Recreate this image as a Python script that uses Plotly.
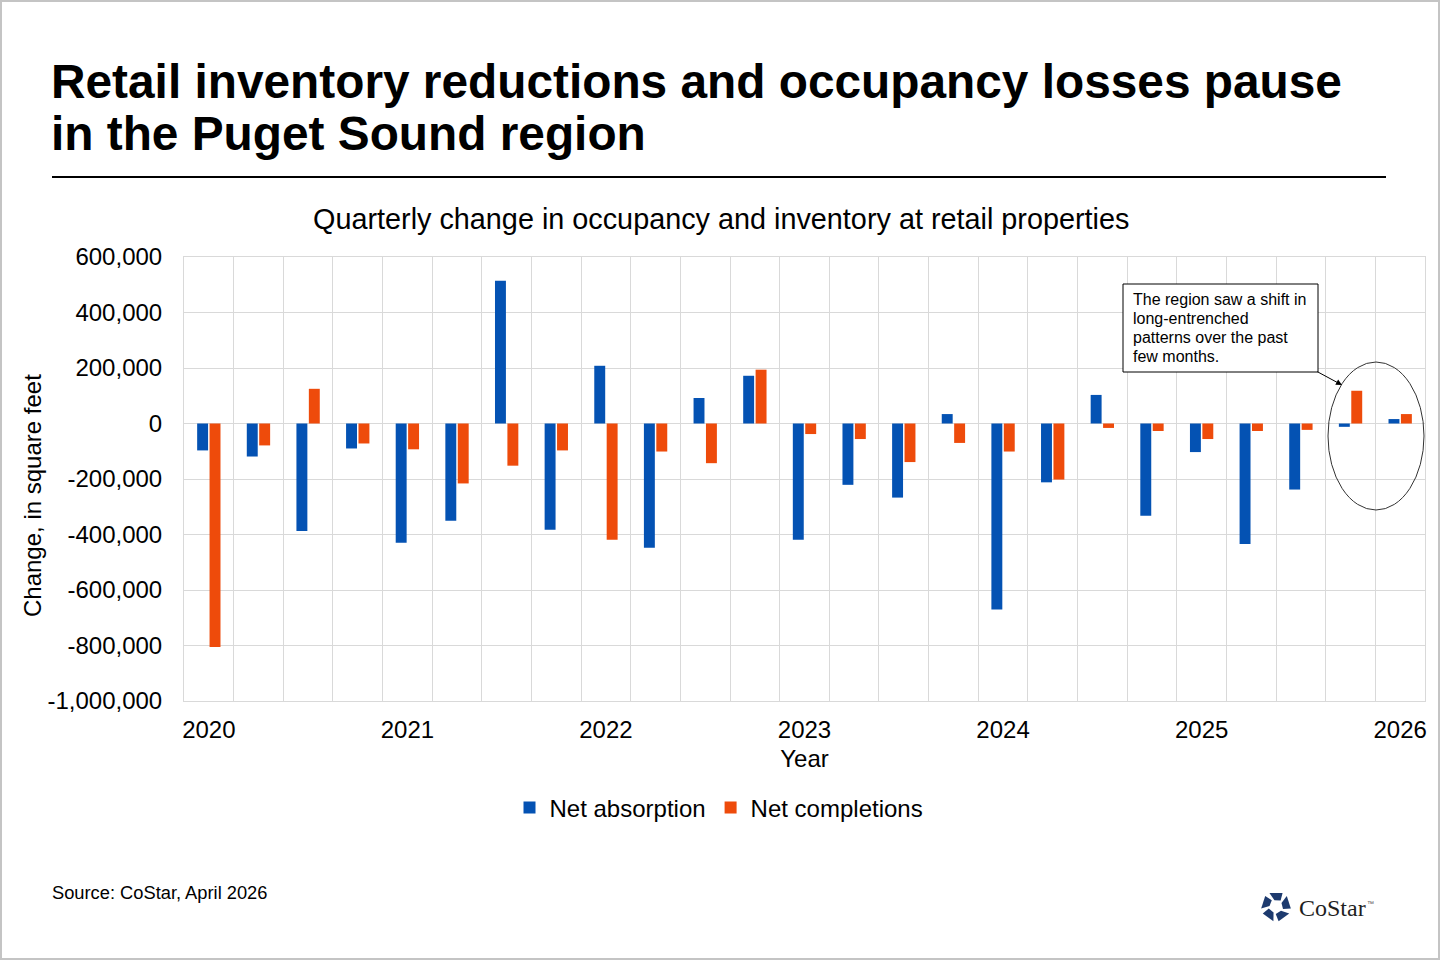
import math
import plotly.graph_objects as go

# ---------------- data ----------------
quarters = [
    "2020 Q1", "2020 Q2", "2020 Q3", "2020 Q4",
    "2021 Q1", "2021 Q2", "2021 Q3", "2021 Q4",
    "2022 Q1", "2022 Q2", "2022 Q3", "2022 Q4",
    "2023 Q1", "2023 Q2", "2023 Q3", "2023 Q4",
    "2024 Q1", "2024 Q2", "2024 Q3", "2024 Q4",
    "2025 Q1", "2025 Q2", "2025 Q3", "2025 Q4",
    "2026 Q1",
]
net_absorption = [
    -97000, -119000, -387000, -90000,
    -430000, -350000, 514000, -383000,
    208000, -448000, 92000, 172000,
    -419000, -221000, -267000, 34000,
    -670000, -212000, 103000, -332000,
    -103000, -434000, -238000, -12000,
    16000,
]
net_completions = [
    -805000, -79000, 125000, -72000,
    -93000, -216000, -152000, -97000,
    -419000, -101000, -143000, 194000,
    -38000, -56000, -139000, -70000,
    -101000, -202000, -16000, -27000,
    -56000, -27000, -23000, 118000,
    34000,
]
y_tick_values = [600000, 400000, 200000, 0, -200000, -400000,
                 -600000, -800000, -1000000]
y_tick_labels = [f"{v:,}" for v in y_tick_values]
year_labels = [q.split(" ")[0] for q in quarters if q.endswith("Q1")]

BLUE = "#0452B3"
ORANGE = "#EE4B0B"
GRID = "#D9D9D9"
FONT = "Arial, Liberation Sans, sans-serif"

# ---------------- geometry helpers ----------------
W, H = 1440, 960
L, R, T, B = 184, 15, 257, 259
PW = W - L - R
PH = H - T - B


def px(x):
    return (x - L) / PW


def py(y):
    return (H - B - y) / PH


x_idx = list(range(len(quarters)))
year_pos = [i for i, q in enumerate(quarters) if q.endswith("Q1")]

fig = go.Figure()
fig.add_trace(go.Bar(x=x_idx, y=net_absorption, name="Net absorption",
                     marker=dict(color=BLUE, line=dict(width=0))))
fig.add_trace(go.Bar(x=x_idx, y=net_completions, name="Net completions",
                     marker=dict(color=ORANGE, line=dict(width=0))))

shapes = []
# outer frame
shapes.append(dict(type="rect", xref="paper", yref="paper",
                   x0=px(1), x1=px(1439), y0=py(959), y1=py(1),
                   line=dict(color="#C4C4C4", width=2), layer="below"))
# rule under title
shapes.append(dict(type="line", xref="paper", yref="paper",
                   x0=px(52), x1=px(1386), y0=py(177), y1=py(177),
                   line=dict(color="black", width=2)))
# ellipse
shapes.append(dict(type="circle", xref="paper", yref="paper",
                   x0=px(1328), x1=px(1424), y0=py(510), y1=py(362),
                   line=dict(color="#333333", width=1)))
# callout box
shapes.append(dict(type="rect", xref="paper", yref="paper",
                   x0=px(1123), x1=px(1318), y0=py(372), y1=py(284),
                   line=dict(color="black", width=1), fillcolor="white"))

# CoStar logo icon (decorative)
cx, cy = 1276, 906.5
for k in range(5):
    th = -90 + 72 * k

    def pt(r, a):
        a = math.radians(a)
        return (cx + r * math.cos(a), cy + r * math.sin(a))
    pts = [pt(15, th - 26), pt(15, th + 26), pt(7.5, th + 38), pt(6.5, th - 14)]
    path = "M " + " L ".join(f"{px(x):.5f},{py(y):.5f}" for x, y in pts) + " Z"
    shapes.append(dict(type="path", xref="paper", yref="paper", path=path,
                       fillcolor="#1D3A6E", line=dict(width=0)))

annotations = []
# Title lines
for text, yy in [("Retail inventory reductions and occupancy losses pause", 82),
                 ("in the Puget Sound region", 133)]:
    annotations.append(dict(text=f"<b>{text}</b>", xref="paper", yref="paper",
                            x=px(49), y=py(yy), xanchor="left", yanchor="middle",
                            showarrow=False, font=dict(family=FONT, size=47.8, color="black")))
# Subtitle
annotations.append(dict(text="Quarterly change in occupancy and inventory at retail properties",
                        xref="paper", yref="paper", x=px(720.5), y=py(219),
                        xanchor="center", yanchor="middle", showarrow=False,
                        font=dict(family=FONT, size=28.8, color="black")))
# Y axis title
annotations.append(dict(text="Change, in square feet", xref="paper", yref="paper",
                        x=px(32), y=py(496), xanchor="center", yanchor="middle",
                        textangle=-90, showarrow=False,
                        font=dict(family=FONT, size=24, color="black")))
# Callout text
for text, yy in [("The region saw a shift in", 299),
                 ("long-entrenched", 318),
                 ("patterns over the past", 337),
                 ("few months.", 356)]:
    annotations.append(dict(text=text, xref="paper", yref="paper",
                            x=px(1131), y=py(yy), xanchor="left", yanchor="middle",
                            showarrow=False, font=dict(family=FONT, size=16, color="black")))
# Arrow
annotations.append(dict(text="", xref="paper", yref="paper", x=px(1342), y=py(385),
                        ax=-26, ay=-14, showarrow=True, arrowhead=2, arrowsize=1.2,
                        arrowwidth=1, arrowcolor="black", standoff=0))
# Source
annotations.append(dict(text="Source: CoStar, April 2026", xref="paper", yref="paper",
                        x=px(50), y=py(892), xanchor="left", yanchor="middle",
                        showarrow=False, font=dict(family=FONT, size=18.3, color="black")))
# Logo text
annotations.append(dict(text="CoStar", xref="paper", yref="paper",
                        x=px(1297), y=py(908), xanchor="left", yanchor="middle",
                        showarrow=False,
                        font=dict(family="Liberation Serif, Times New Roman, serif",
                                  size=24, color="#1F1F1F")))
annotations.append(dict(text="™", xref="paper", yref="paper",
                        x=px(1365), y=py(903), xanchor="left", yanchor="middle",
                        showarrow=False, font=dict(family=FONT, size=7, color="#555555")))

fig.update_layout(
    width=W, height=H, autosize=False,
    margin=dict(l=L, r=R, t=T, b=B, pad=0),
    paper_bgcolor="white", plot_bgcolor="white",
    font=dict(family=FONT, color="black", size=24),
    barmode="group", bargap=0.5, bargroupgap=0.12,
    showlegend=True,
    legend=dict(orientation="h", x=px(719), xanchor="center", y=py(808),
                yanchor="middle", font=dict(family=FONT, size=24, color="black"),
                bgcolor="rgba(0,0,0,0)", itemwidth=30),
    shapes=shapes, annotations=annotations,
)

fig.update_xaxes(
    range=[-0.5, len(quarters) - 0.5],
    tickmode="array", tickvals=year_pos, ticktext=year_labels,
    showgrid=False, zeroline=False,
    showline=True, mirror=True, linecolor=GRID, linewidth=1,
    ticks="", ticklabelstandoff=7,
    tickfont=dict(family=FONT, size=24, color="black"),
    minor=dict(tickmode="linear", tick0=-0.5, dtick=1, showgrid=True,
               gridcolor=GRID, gridwidth=1, ticks=""),
    title=dict(text="Year", font=dict(family=FONT, size=24, color="black"), standoff=8),
)
fig.update_yaxes(
    range=[-1000000, 600000],
    tickmode="array", tickvals=y_tick_values, ticktext=y_tick_labels,
    showgrid=True, gridcolor=GRID, gridwidth=1,
    zeroline=True, zerolinecolor=GRID, zerolinewidth=1,
    showline=True, mirror=True, linecolor=GRID, linewidth=1,
    ticks="", ticklabelstandoff=16,
    tickfont=dict(family=FONT, size=24, color="black"),
)

fig.write_html("out.html")
